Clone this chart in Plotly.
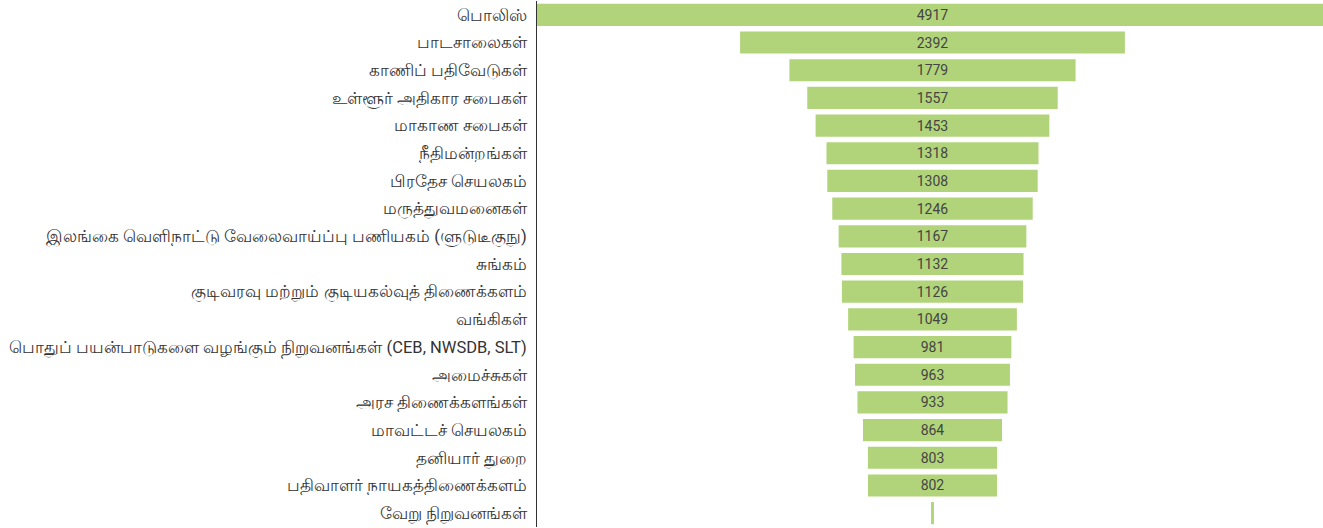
import plotly.graph_objects as go

categories = [
    "பொலிஸ்",
    "பாடசாலைகள்",
    "காணிப் பதிவேடுகள்",
    "உள்ளூர் அதிகார சபைகள்",
    "மாகாண சபைகள்",
    "நீதிமன்றங்கள்",
    "பிரதேச செயலகம்",
    "மருத்துவமனைகள்",
    "இலங்கை வெளிநாட்டு வேலைவாய்ப்பு பணியகம் (ளுடுடீகுநு)",
    "சுங்கம்",
    "குடிவரவு மற்றும் குடியகல்வுத் திணைக்களம்",
    "வங்கிகள்",
    "பொதுப் பயன்பாடுகளை வழங்கும் நிறுவனங்கள் (CEB, NWSDB, SLT)",
    "அமைச்சுகள்",
    "அரச திணைக்களங்கள்",
    "மாவட்டச் செயலகம்",
    "தனியார் துறை",
    "பதிவாளர் நாயகத்திணைக்களம்",
    "வேறு நிறுவனங்கள்",
]
values = [4917, 2392, 1779, 1557, 1453, 1318, 1308, 1246, 1167, 1132,
          1126, 1049, 981, 963, 933, 864, 803, 802, 18]
labels = [str(v) for v in values[:-1]] + [""]

fig = go.Figure(go.Funnel(
    y=categories,
    x=values,
    text=labels,
    textinfo="text",
    textposition="inside",
    insidetextanchor="middle",
    marker=dict(color="#b1d47a", line=dict(width=0)),
    connector=dict(visible=False),
    textfont=dict(family="Roboto, sans-serif", size=14, color="#444444"),
    hoverinfo="y+x",
))

half = max(values) / 2
fig.update_layout(
    width=1323, height=528,
    margin=dict(l=537, r=0, t=1, b=1),
    paper_bgcolor="white", plot_bgcolor="white",
    showlegend=False,
    bargap=0.1,
    font=dict(family="'Liberation Sans Narrow', Roboto, sans-serif", size=16.5, color="#333333"),
    xaxis=dict(visible=False, range=[-half, half - 31]),
    yaxis=dict(showline=True, linecolor="#333333", linewidth=1,
               ticks="", ticklabelstandoff=6, showgrid=False, automargin=False,
               tickfont=dict(family="'Liberation Sans Narrow', Roboto, sans-serif",
                             size=16.5, color="#333333")),
)

fig.write_html("out.html", config={"displayModeBar": False},
               post_script="document.body.style.margin='0';document.body.style.padding='0';")
